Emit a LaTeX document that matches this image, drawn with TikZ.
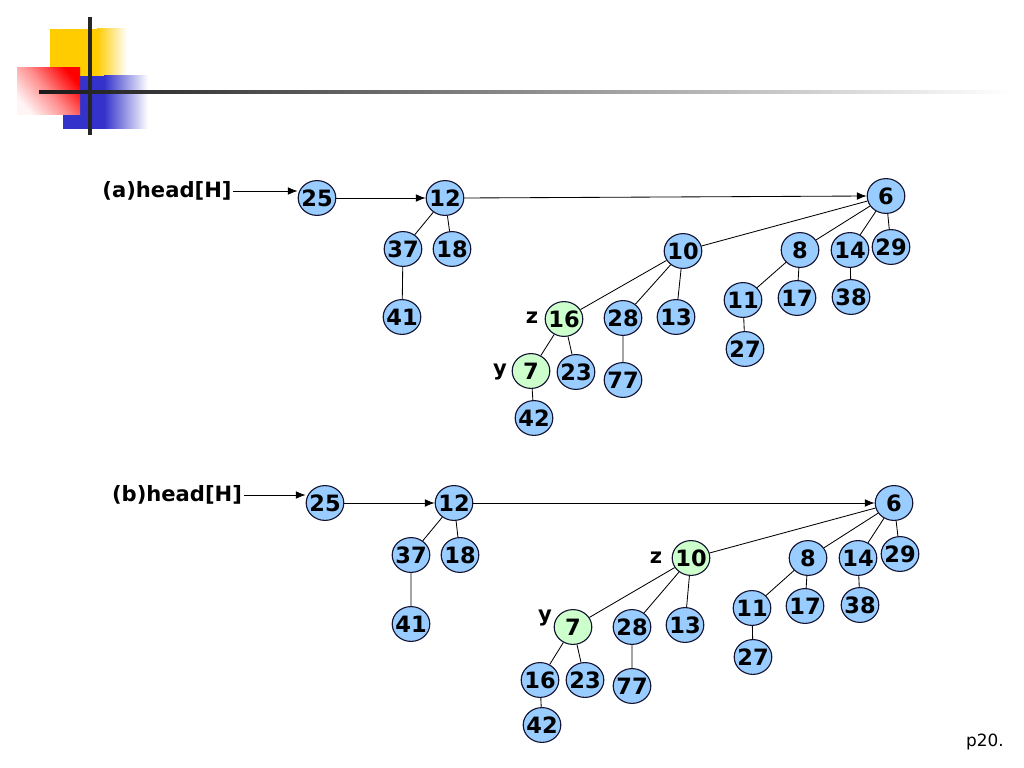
\documentclass[tikz,border=0pt]{standalone}
\usepackage{fontspec}
\setmainfont{DejaVu Sans}
\usetikzlibrary{shapes.geometric,arrows.meta}
\definecolor{keyblue}{RGB}{153,204,255}
\definecolor{markgreen}{RGB}{204,255,204}
\definecolor{baryellow}{RGB}{255,204,0}
\definecolor{barblue}{RGB}{51,51,204}
\definecolor{nodeline}{RGB}{20,20,50}
\tikzset{
  keynode/.style={draw=nodeline, line width=0.8pt, ellipse, fill=keyblue,
    inner xsep=-3pt, inner ysep=0pt,
    minimum width=0.94cm, minimum height=0.87cm,
    font=\fontsize{16}{19}\selectfont\bfseries},
  marknode/.style={keynode, fill=markgreen},
  tag/.style={font=\fontsize{15}{18}\selectfont\bfseries, inner sep=1pt},
}
\begin{document}
\begin{tikzpicture}[x=0.025cm, y=-0.025cm, line width=0.6pt,
    >={Latex[length=7pt,width=5.5pt]}]
        \useasboundingbox (0,0) rectangle (1024,768);

        % title bar
        \fill[baryellow] (50,29) rectangle (97,76);
        \shade[left color=baryellow, right color=white] (97,29) rectangle (127,76);
        \fill[barblue] (63,76) rectangle (104,129);
        \shade[left color=barblue, right color=white] (104,76) rectangle (148,129);
        \shade[top color=red, bottom color=red!4!white, middle color=red!45!white,
          shading angle=-50] (17,68) rectangle (80,115);
        \shade[left color=black!90, right color=white] (39,90.5) rectangle (1010,93.5);
        \fill[black!85] (88.2,17) rectangle (91.8,135);

        % nodes (a)
        \node (ahead) [tag] at (167,191) {(a)head[H]};
        \node (a25) [keynode] at (317,198) {25};
        \node (a12) [keynode] at (445,198) {12};
        \node (a6) [keynode] at (886,196) {6};
        \node (a37) [keynode] at (403,249) {37};
        \node (a18) [keynode] at (452,249) {18};
        \node (a41) [keynode] at (402,317) {41};
        \node (a10) [keynode] at (683,251) {10};
        \node (a8) [keynode] at (800,250) {8};
        \node (a14) [keynode] at (850,250) {14};
        \node (a29) [keynode] at (891,247) {29};
        \node (a11) [keynode] at (743,300) {11};
        \node (a17) [keynode] at (797,298) {17};
        \node (a38) [keynode] at (851,297) {38};
        \node (a27) [keynode] at (745,349) {27};
        \node (a16) [marknode] at (564,319) {16};
        \node (a28) [keynode] at (623,318) {28};
        \node (a13) [keynode] at (676,317) {13};
        \node (a7) [marknode] at (531,371) {7};
        \node (a23) [keynode] at (576,372) {23};
        \node (a77) [keynode] at (623,380) {77};
        \node (a42) [keynode] at (534,418) {42};
        \node (az) [tag] at (532,318) {z};
        \node (ay) [tag] at (500,372) {y};

        % edges (a)
        \draw[->] (ahead.east) -- (ahead.east -| a25.west);
        \draw[->] (a25.east) -- (a12.west);
        \draw[->] (a12.east) -- (a6.west);
        \draw (a12) -- (a37) (a12) -- (a18) (a37) -- (a41);
        \draw (a6) -- (a10) (a6) -- (a8) (a6) -- (a14) (a6) -- (a29);
        \draw (a10) -- (a16) (a10) -- (a28) (a10) -- (a13);
        \draw (a8) -- (a11) (a8) -- (a17) (a14) -- (a38) (a11) -- (a27);
        \draw (a16) -- (a7) (a16) -- (a23) (a28) -- (a77) (a7) -- (a42);

        % nodes (b)
        \node (bhead) [tag] at (177,495) {(b)head[H]};
        \node (b25) [keynode] at (325,503) {25};
        \node (b12) [keynode] at (454,503) {12};
        \node (b6) [keynode] at (894,503) {6};
        \node (b37) [keynode] at (411,555) {37};
        \node (b18) [keynode] at (460,555) {18};
        \node (b41) [keynode] at (411,624) {41};
        \node (b10) [marknode] at (691,558) {10};
        \node (b8) [keynode] at (808,558) {8};
        \node (b14) [keynode] at (858,558) {14};
        \node (b29) [keynode] at (900,554) {29};
        \node (b11) [keynode] at (752,608) {11};
        \node (b17) [keynode] at (805,606) {17};
        \node (b38) [keynode] at (860,605) {38};
        \node (b27) [keynode] at (753,657) {27};
        \node (b7) [marknode] at (573,627) {7};
        \node (b28) [keynode] at (632,627) {28};
        \node (b13) [keynode] at (685,625) {13};
        \node (b16) [keynode] at (540,680) {16};
        \node (b23) [keynode] at (585,680) {23};
        \node (b77) [keynode] at (632,686) {77};
        \node (b42) [keynode] at (542,725) {42};
        \node (bz) [tag] at (656,558) {z};
        \node (by) [tag] at (545,618) {y};

        % edges (b)
        \draw[->] (bhead.east) -- (bhead.east -| b25.west);
        \draw[->] (b25.east) -- (b12.west);
        \draw[->] (b12.east) -- (b6.west);
        \draw (b12) -- (b37) (b12) -- (b18) (b37) -- (b41);
        \draw (b6) -- (b10) (b6) -- (b8) (b6) -- (b14) (b6) -- (b29);
        \draw (b10) -- (b7) (b10) -- (b28) (b10) -- (b13);
        \draw (b8) -- (b11) (b8) -- (b17) (b14) -- (b38) (b11) -- (b27);
        \draw (b7) -- (b16) (b7) -- (b23) (b28) -- (b77) (b16) -- (b42);

        % page number
        \node (page) [font=\fontsize{12}{14}\selectfont] at (985,742) {p20.};
    \end{tikzpicture}
\end{document}
